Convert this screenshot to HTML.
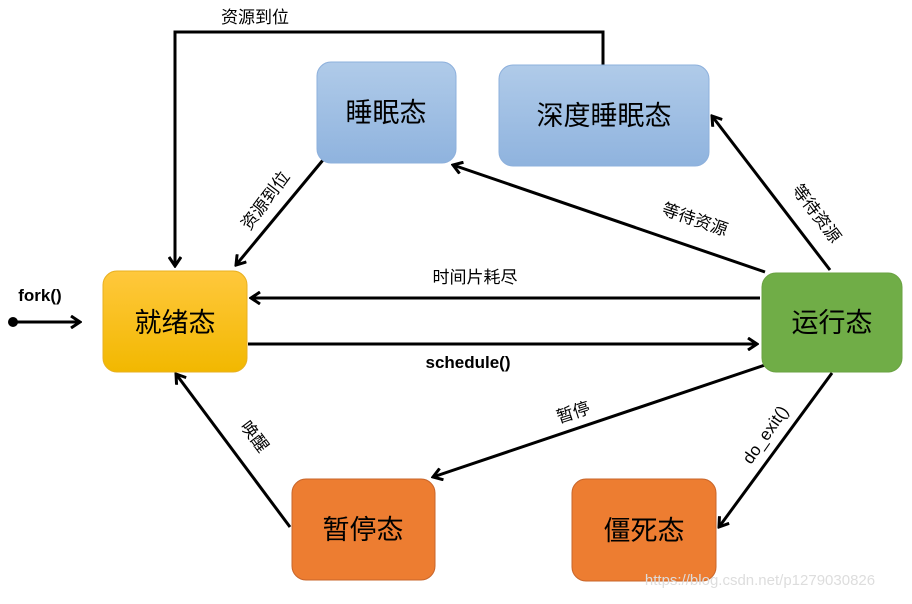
<!DOCTYPE html>
<html><head><meta charset="utf-8"><style>
html,body{margin:0;padding:0;background:#fff}
text{font-family:"Liberation Sans","Noto Sans CJK SC",sans-serif;fill:#000}
</style></head><body>
<svg width="912" height="599" viewBox="0 0 912 599" xmlns="http://www.w3.org/2000/svg">
<defs>
<linearGradient id="y" x1="0" y1="0" x2="0" y2="1"><stop offset="0" stop-color="#ffc83d"/><stop offset="1" stop-color="#f2b800"/></linearGradient>
<linearGradient id="b" x1="0" y1="0" x2="0" y2="1"><stop offset="0" stop-color="#b0cbe9"/><stop offset="1" stop-color="#8fb3de"/></linearGradient>
<marker id="a" markerWidth="12" markerHeight="14" refX="10" refY="7" orient="auto" markerUnits="userSpaceOnUse"><path d="M1,1 L10,7 L1,13" fill="none" stroke="#000" stroke-width="3"/></marker>
</defs>
<g stroke="#000" stroke-width="3" fill="none" marker-end="url(#a)">
<path d="M603,65 V32 H175 V266"/>
<line x1="323" y1="160" x2="236" y2="265"/>
<line x1="765" y1="272" x2="453" y2="165"/>
<line x1="830" y1="270" x2="712" y2="116"/>
<line x1="760" y1="298" x2="251" y2="298"/>
<line x1="248" y1="344" x2="757" y2="344"/>
<line x1="765" y1="365" x2="433" y2="477"/>
<line x1="832" y1="373" x2="719" y2="527"/>
<line x1="290" y1="527" x2="176" y2="374"/>
<line x1="15" y1="322" x2="80" y2="322"/>
</g>
<circle cx="13" cy="322" r="5" fill="#000"/>
<rect x="103" y="271" width="144" height="101" rx="14" fill="url(#y)" stroke="#e8b020"/>
<rect x="317" y="62" width="139" height="101" rx="14" fill="url(#b)" stroke="#8db0dc"/>
<rect x="499" y="65" width="210" height="101" rx="14" fill="url(#b)" stroke="#8db0dc"/>
<rect x="762" y="273" width="140" height="99" rx="14" fill="#70ad47" stroke="#6aa242"/>
<rect x="292" y="479" width="143" height="101" rx="14" fill="#ed7d31" stroke="#c8652a"/>
<rect x="572" y="479" width="144" height="102" rx="14" fill="#ed7d31" stroke="#c8652a"/>
<g font-size="27" text-anchor="middle">
<text x="175" y="332">就绪态</text>
<text x="386" y="122">睡眠态</text>
<text x="604" y="125">深度睡眠态</text>
<text x="832" y="332">运行态</text>
<text x="363" y="539">暂停态</text>
<text x="644" y="540">僵死态</text>
</g>
<g font-size="17" text-anchor="middle">
<text x="255" y="23">资源到位</text>
<text x="475" y="283">时间片耗尽</text>
<text x="468" y="368" font-weight="bold">schedule()</text>
<text x="40" y="301" font-weight="bold">fork()</text>
<text transform="translate(270,204) rotate(-53)">资源到位</text>
<text transform="translate(693,225) rotate(19)">等待资源</text>
<text transform="translate(812,217) rotate(53)">等待资源</text>
<text transform="translate(575,418) rotate(-18)">暂停</text>
<text transform="translate(770,438) rotate(-55)">do_exit()</text>
<text transform="translate(250,440) rotate(53)">唤醒</text>
</g>
<text x="760" y="585" font-size="15" text-anchor="middle" style="fill:#ddd">https://blog.csdn.net/p1279030826</text>
</svg>
</body></html>
